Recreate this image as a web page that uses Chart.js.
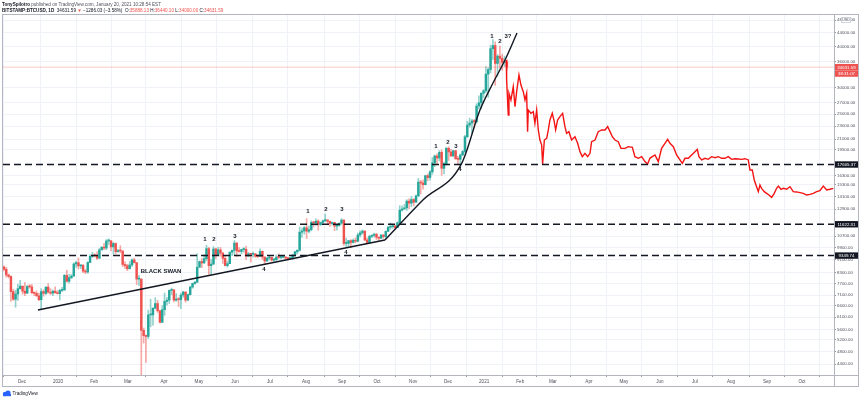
<!DOCTYPE html>
<html lang="en">
<head>
  <meta charset="UTF-8">
  <title>BTCUSD daily - fractal projection</title>
  <script src="https://cdn.jsdelivr.net/npm/chart.js"></script>
  <style>
    html, body { margin: 0; padding: 0; background: #fff; }
  </style>
</head>
<body>
  <canvas id="btcChart" width="860" height="399"></canvas>
  <script>
    // day numbers count from 1 Dec 2019; one candle = two days, first one 15 Nov 2019
    const candleStartDay = -16;
    const candleDays = 2;

    const opens = [
      8640, 8500, 8170, 8090, 7280, 6900, 7160, 7430, 7560, 7300,
      7200, 7540, 7520, 7220, 7190, 7070, 6880, 7280, 7190, 7510,
      7250, 7200, 7300, 7220, 7180, 7340, 7360, 8150, 7820, 8020,
      8110, 8820, 8900, 8700, 8730, 8390, 8340, 8910, 9300, 9350,
      9330, 9180, 9730, 9910, 9850, 10350, 10360, 9930, 10170, 9610,
      9670, 9650, 8790, 8710, 8530, 8760, 9070, 8900, 7940, 7940,
      5560, 5360, 5330, 6190, 6190, 6490, 6700, 6370, 5880, 6420,
      6800, 6860, 7340, 7370, 6860, 6910, 6880, 7110, 7260, 6860,
      7130, 7510, 7700, 7770, 8620, 8970, 8880, 9150, 9810, 8720,
      8810, 9790, 9380, 9730, 9510, 9170, 8720, 8840, 9570, 9700,
      10200, 9660, 9620, 9750, 9770, 9320, 9470, 9430, 9460, 9300,
      9290, 9630, 9250, 9000, 9190, 9230, 9060, 9080, 9250, 9230,
      9240, 9240, 9190, 9150, 9210, 9390, 9600, 9700, 11000, 11100,
      11340, 11070, 11190, 11770, 11750, 11880, 11580, 11770, 11910, 11970,
      11860, 11680, 11770, 11470, 11530, 11710, 11970, 10170, 10170, 10370,
      10240, 10400, 10330, 10790, 10950, 11090, 10420, 10240, 10690, 10770,
      10840, 10620, 10550, 10790, 10670, 11060, 11380, 11430, 11500, 11360,
      11750, 12820, 12930, 13030, 13650, 13460, 13800, 13550, 14150, 15580,
      15480, 15300, 16290, 16080, 16730, 17800, 18680, 18420, 19160, 17150,
      17720, 19700, 19210, 18690, 19380, 18320, 18250, 18810, 19270, 21350,
      23150, 23480, 23830, 23720, 26440, 27040, 28880, 29390, 33000, 34050,
      39370, 40240, 35540, 37390, 36820, 35790, 35888
    ];
    const highs = [
      8700, 8620, 8230, 8120, 7400, 7350, 7650, 7870, 7570, 7750,
      7600, 7650, 7650, 7270, 7310, 7200, 7430, 7370, 7520, 7690,
      7430, 7370, 7520, 7330, 7400, 7500, 8200, 8450, 8200, 8200,
      8900, 9000, 9190, 8770, 8800, 8500, 8960, 9420, 9560, 9470,
      9600, 9830, 9950, 10180, 10450, 10500, 10380, 10250, 10200, 9770,
      10020, 9660, 8950, 8800, 8970, 9140, 9190, 8900, 8150, 7960,
      5650, 5380, 6400, 6900, 6500, 6980, 6850, 6390, 6600, 7200,
      7000, 7360, 7460, 7370, 7180, 6990, 7200, 7300, 7260, 7150,
      7560, 7720, 7800, 9470, 9000, 9180, 9400, 10050, 9900, 9100,
      9950, 9840, 9900, 9890, 9570, 9300, 9000, 9600, 9720, 10380,
      10230, 9880, 9780, 9880, 9990, 9560, 9500, 9580, 9480, 9400,
      9790, 9660, 9280, 9230, 9300, 9260, 9180, 9380, 9470, 9300,
      9340, 9280, 9200, 9230, 9420, 9650, 9730, 11400, 11330, 11450,
      12090, 11470, 11900, 11800, 12070, 12000, 11800, 11980, 12480, 12020,
      11890, 11800, 11790, 11590, 11720, 12090, 11980, 10560, 10390, 10440,
      10500, 10580, 10930, 11100, 11170, 11090, 10570, 10770, 10800, 10940,
      10920, 10640, 10800, 10800, 11100, 11480, 11730, 11560, 11540, 11820,
      13220, 13200, 13350, 13790, 13860, 14100, 13900, 14250, 15970, 15770,
      15830, 16350, 16490, 16880, 18480, 18810, 18960, 19400, 19480, 17900,
      19860, 19920, 19560, 19420, 19420, 18640, 18950, 19400, 21560, 23770,
      24300, 24100, 24100, 26870, 28400, 29000, 29650, 34800, 34500, 40400,
      41950, 41300, 37800, 40100, 37900, 37400, 36440
    ];
    const lows = [
      8400, 8050, 8000, 6800, 6850, 6530, 6850, 7400, 7150, 7080,
      7180, 7450, 7170, 7080, 7030, 6830, 6430, 7050, 7120, 7200,
      7130, 7080, 7200, 7150, 6870, 7270, 7350, 7770, 7720, 7970,
      8100, 8610, 8520, 8540, 8300, 8240, 8260, 8900, 9210, 9260,
      9110, 9160, 9720, 9740, 9730, 10100, 9650, 9450, 9460, 9580,
      9530, 8650, 8530, 8420, 8520, 8670, 8870, 7640, 7590, 3850,
      5090, 4450, 5250, 5700, 5760, 6450, 6300, 5860, 5870, 6170,
      6620, 6700, 7120, 6770, 6800, 6560, 6470, 7000, 6760, 6830,
      7100, 7450, 7650, 7750, 8620, 8600, 8860, 9030, 8200, 8200,
      8800, 9150, 9350, 9300, 8850, 8700, 8630, 8840, 9340, 9400,
      9270, 9580, 9460, 9570, 9100, 9260, 8930, 9250, 9230, 9200,
      9280, 9100, 8840, 8990, 9070, 8990, 8970, 9050, 9150, 9130,
      9200, 9110, 9060, 9120, 9130, 9300, 9460, 9650, 10600, 10850,
      10520, 10950, 11100, 11400, 11520, 11150, 11550, 11690, 11830, 11580,
      11450, 11550, 11120, 11160, 11460, 11600, 10030, 9880, 9880, 9880,
      10200, 10210, 10280, 10640, 10840, 10370, 10150, 10200, 10580, 10630,
      10450, 10370, 10510, 10540, 10530, 11050, 11210, 11300, 11220, 11340,
      11700, 12720, 12900, 12800, 12950, 13130, 13220, 13530, 14100, 14350,
      14820, 15280, 15720, 15800, 16450, 17350, 17680, 18050, 16330, 16500,
      17520, 18100, 18600, 18560, 18250, 17650, 17580, 18730, 19050, 21230,
      22800, 21900, 22700, 23450, 25900, 25900, 28000, 29000, 28100, 33300,
      36500, 30500, 32500, 34400, 33900, 34800, 34000
    ];
    const closes = [
      8500, 8170, 8090, 7280, 6900, 7160, 7430, 7560, 7300, 7200,
      7540, 7520, 7220, 7190, 7070, 6880, 7280, 7190, 7510, 7250,
      7200, 7300, 7220, 7180, 7340, 7360, 8150, 7820, 8020, 8110,
      8820, 8900, 8700, 8730, 8390, 8340, 8910, 9300, 9350, 9330,
      9180, 9730, 9910, 9850, 10350, 10360, 9930, 10170, 9610, 9670,
      9650, 8790, 8710, 8530, 8760, 9070, 8900, 7940, 7940, 5560,
      5360, 5330, 6190, 6190, 6490, 6700, 6370, 5880, 6420, 6800,
      6860, 7340, 7370, 6860, 6910, 6880, 7110, 7260, 6860, 7130,
      7510, 7700, 7770, 8620, 8970, 8880, 9150, 9810, 8720, 8810,
      9790, 9380, 9730, 9510, 9170, 8720, 8840, 9570, 9700, 10200,
      9660, 9620, 9750, 9770, 9320, 9470, 9430, 9460, 9300, 9290,
      9630, 9250, 9000, 9190, 9230, 9060, 9080, 9250, 9230, 9240,
      9240, 9190, 9150, 9210, 9390, 9600, 9700, 11000, 11100, 11340,
      11070, 11190, 11770, 11750, 11880, 11580, 11770, 11910, 11970, 11860,
      11680, 11770, 11470, 11530, 11710, 11970, 10170, 10170, 10370, 10240,
      10400, 10330, 10790, 10950, 11090, 10420, 10240, 10690, 10770, 10840,
      10620, 10550, 10790, 10670, 11060, 11380, 11430, 11500, 11360, 11750,
      12820, 12930, 13030, 13650, 13460, 13800, 13550, 14150, 15580, 15480,
      15300, 16290, 16080, 16730, 17800, 18680, 18420, 19160, 17150, 17720,
      19700, 19210, 18690, 19380, 18320, 18250, 18810, 19270, 21350, 23150,
      23480, 23830, 23720, 26440, 27040, 28880, 29390, 33000, 34050, 39370,
      40240, 35540, 37390, 36820, 35790, 35900, 34632
    ];

    // red fractal projection drawn after the last candle
    const projDays = [
      416.0, 416.3, 417.7, 418.3, 420.0, 422.0, 423.5, 424.9, 426.9, 428.6,
      430.6, 432.1, 433.5, 434.3, 434.9, 437.2, 439.2, 440.6, 442.1, 443.5,
      444.9, 446.4, 447.2, 448.7, 450.7, 452.1, 453.5, 455.5, 457.2, 458.4,
      460.1, 462.1, 464.4, 466.4, 467.8, 469.8, 472.1, 475.0, 477.3, 479.3,
      481.3, 483.6, 485.9, 487.9, 489.3, 492.2, 495.0, 497.9, 500.8, 503.1,
      505.1, 507.1, 509.4, 512.2, 514.5, 518.0, 520.8, 524.3, 526.5, 529.4,
      532.3, 535.1, 537.4, 539.4, 541.4, 543.7, 546.6, 549.4, 552.3, 554.6,
      556.6, 559.5, 562.3, 565.2, 567.2, 569.5, 572.4, 575.2, 578.1, 580.1,
      581.5, 583.8, 586.7, 589.5, 592.4, 595.3, 598.1, 601.0, 603.8, 606.7,
      609.6, 612.4, 615.3, 618.2, 621.0, 623.9, 625.3, 627.3, 629.0, 631.0,
      632.5, 633.9, 635.3, 637.6, 639.6, 641.6, 643.9, 646.2, 648.2, 649.7,
      652.0, 654.0, 656.8, 659.7, 662.5, 665.4, 668.3, 671.1, 674.0, 676.9,
      679.7, 682.6, 685.4, 688.3, 691.2, 694.0, 696.9
    ];
    const projPrices = [
      36400, 31680, 24840, 28870, 27560, 30240, 26320, 29210, 32790, 30590,
      29210, 27560, 28870, 22120, 25710, 25130, 25420, 23440, 25710, 22380,
      20870, 20160, 17670, 20870, 21120, 22380, 23990, 25130, 23710, 22380,
      23990, 24550, 25130, 22900, 21860, 22120, 20870, 21360, 20400, 19250,
      18590, 19030, 18590, 19030, 20630, 20870, 22120, 22380, 22380, 22900,
      22120, 21360, 20870, 20630, 19700, 19700, 19930, 19840, 18590, 18380,
      18590, 17960, 17670, 18380, 18590, 18810, 17960, 19700, 20400, 20970,
      20400, 19930, 18810, 18170, 17750, 18380, 18380, 18810, 19250, 19570,
      18590, 18170, 18380, 18250, 18590, 18460, 18590, 18380, 18380, 18590,
      18250, 18330, 18290, 18250, 18330, 18170, 16950, 16950, 15810, 15090,
      14580, 15270, 14920, 14580, 14410, 14240, 14010, 14410, 14920, 15160,
      14820, 14920, 14820, 15090, 14580, 14550, 14480, 14410, 14240, 14310,
      14410, 14580, 14680, 15160, 14750, 14820, 14920
    ];

    const levels = [17605.37, 11622.31, 9349.74];
    const lastPrice = 34631.59;

    // hand drawn trend lines
    const supportDays = [13.7, 311.8];
    const supportPrices = [6405, 10420];
    const curveDays = [311.8, 344.4, 377.7, 393.4, 404.6, 414.9, 425.2];
    const curvePrices = [10420, 13760, 17750, 25710, 31020, 36400, 43900];

    const monthDays = [0, 31, 62, 91, 122, 152, 183, 213, 244, 275, 305, 336,
      366, 397, 428, 456, 487, 517, 548, 578, 609, 640, 670];
    const monthLabels = ['Dec', '2020', 'Feb', 'Mar', 'Apr', 'May', 'Jun', 'Jul', 'Aug', 'Sep', 'Oct', 'Nov',
      'Dec', '2021', 'Feb', 'Mar', 'Apr', 'May', 'Jun', 'Jul', 'Aug', 'Sep', 'Oct'];
    const priceTicks = [48000, 44000, 40000, 36000, 30000, 27000, 25000, 23000, 21000, 19500,
      16300, 15300, 14100, 12900, 10700, 9900, 9100, 8300, 7700, 7100, 6600, 6100,
      5600, 5200, 4800, 4400];

    // labels written on the chart: text, day, price
    const notes = [
      ['BLACK SWAN', 102, 8400],
      ['1', 157.2, 10490], ['2', 164.9, 10490], ['3', 183.0, 10710], ['4', 207.9, 8520],
      ['1', 245.7, 12750], ['2', 261.1, 12920], ['3', 274.9, 12920], ['4', 278.3, 9580],
      ['1', 355.6, 20020], ['2', 365.9, 20590], ['3', 372.8, 20020], ['4', 376.2, 16990],
      ['1', 403.7, 43000], ['2', 410.6, 41530], ['3?', 417.5, 43000]
    ];

    const dayMin = -16.3, dayMax = 697.5;
    const priceMin = 4077, priceMax = 50110;

    const UP = '#26a69a', DOWN = '#ef5350';
    const FONT = '"Liberation Sans", Arial, sans-serif';

    const candleX = i => candleStartDay + i * candleDays + 0.5;
    const isUp = i => closes[i] >= opens[i];

    const wickData = highs.map((h, i) => ({ x: candleX(i), y: [lows[i], h] }));
    const bodyData = opens.map((o, i) => ({ x: candleX(i), y: [o, closes[i]] }));

    const datasets = [
      {
        type: 'line', order: 0,
        data: supportDays.map((d, i) => ({ x: d, y: supportPrices[i] })),
        borderColor: '#131722', borderWidth: 1.4, pointRadius: 0
      },
      {
        type: 'line', order: 0,
        data: curveDays.map((d, i) => ({ x: d, y: curvePrices[i] })),
        borderColor: '#131722', borderWidth: 1.4, pointRadius: 0,
        cubicInterpolationMode: 'monotone'
      },
      ...levels.map(l => ({
        type: 'line', order: 1,
        data: [{ x: dayMin, y: l }, { x: dayMax, y: l }],
        borderColor: '#131722', borderWidth: 1.6, borderDash: [7, 4], pointRadius: 0
      })),
      {
        type: 'line', order: 2,
        data: [{ x: dayMin, y: lastPrice }, { x: dayMax, y: lastPrice }],
        borderColor: 'rgba(239,83,80,0.3)', borderWidth: 1, pointRadius: 0
      },
      {
        type: 'line', order: 2,
        data: projDays.map((d, i) => ({ x: d, y: projPrices[i] })),
        borderColor: '#f41414', borderWidth: 1.4, pointRadius: 0,
        borderJoinStyle: 'miter'
      },
      {
        type: 'bar', order: 3, grouped: false,
        data: bodyData, barThickness: 1.8, minBarLength: 1,
        backgroundColor: ctx => isUp(ctx.dataIndex) ? UP : DOWN
      },
      {
        type: 'bar', order: 4, grouped: false,
        data: wickData, barThickness: 1,
        backgroundColor: ctx => isUp(ctx.dataIndex) ? 'rgba(38,166,154,0.5)' : 'rgba(239,83,80,0.5)'
      }
    ];

    function drawRuns(ctx, runs, x, y) {
      runs.forEach(([text, color, bold]) => {
        ctx.font = (bold ? 'bold ' : '') + '4.6px ' + FONT;
        ctx.fillStyle = color;
        ctx.fillText(text, x, y);
        x += ctx.measureText(text).width;
      });
    }

    function axisBox(ctx, yy, text, bg) {
      ctx.fillStyle = bg;
      ctx.fillRect(835, yy - 3.2, 23, 6.4);
      ctx.fillStyle = '#fff';
      ctx.font = '4.4px ' + FONT;
      ctx.textAlign = 'center';
      ctx.textBaseline = 'middle';
      ctx.fillText(text, 846.5, yy + 0.2);
    }

    const overlay = {
      id: 'overlay',
      afterDatasetsDraw(chart) {
        const { ctx, scales: { x, y } } = chart;
        ctx.save();
        ctx.fillStyle = '#131722';
        ctx.textBaseline = 'middle';
        notes.forEach(([t, d, p]) => {
          ctx.font = 'bold 6px ' + FONT;
          ctx.textAlign = t.length > 2 ? 'left' : 'center';
          ctx.fillText(t, x.getPixelForValue(d), y.getPixelForValue(p));
        });
        ctx.restore();
      },
      afterDraw(chart) {
        const { ctx, scales: { y } } = chart;
        ctx.save();
        // frame
        ctx.strokeStyle = '#b2b5be';
        ctx.lineWidth = 1;
        ctx.strokeRect(2.5, 14.5, 856, 372);
        ctx.beginPath();
        ctx.moveTo(834.5, 14.5); ctx.lineTo(834.5, 386.5);
        ctx.moveTo(2.5, 375.5); ctx.lineTo(858.5, 375.5);
        ctx.stroke();

        // price boxes on the axis
        const py = y.getPixelForValue(lastPrice);
        axisBox(ctx, py, lastPrice.toFixed(2), DOWN);
        axisBox(ctx, py + 6.4, '38:31:07', DOWN);
        levels.forEach(l => axisBox(ctx, y.getPixelForValue(l), l.toFixed(2), '#131722'));

        // USD marker
        ctx.fillStyle = '#fff';
        ctx.strokeStyle = '#d1d4dc';
        ctx.fillRect(841, 17, 10, 6);
        ctx.strokeRect(841.5, 17.5, 9, 5);
        ctx.fillStyle = '#50535e';
        ctx.font = '3.8px ' + FONT;
        ctx.textAlign = 'center';
        ctx.textBaseline = 'middle';
        ctx.fillText('USD', 846, 20.2);

        // header
        ctx.textAlign = 'left';
        ctx.textBaseline = 'middle';
        drawRuns(ctx, [['TonySpilotro', '#131722', true],
          [' published on TradingView.com, January 20, 2021 10:28:54 EST', '#50535e', false]], 2, 4.5);
        drawRuns(ctx, [['BITSTAMP:BTCUSD, 1D', '#131722', true], ['  34631.59 ', '#131722', false],
          ['\u25BC', DOWN, false], [' \u22121286.03 (\u22123.58%)  ', '#131722', false],
          ['O:', '#131722', false], ['35888.13', DOWN, false], [' H:', '#131722', false], ['36440.10', DOWN, false],
          [' L:', '#131722', false], ['34000.00', DOWN, false], [' C:', '#131722', false], ['34631.59', DOWN, false]], 2, 10.3);

        // TradingView mark
        ctx.fillStyle = '#2962ff';
        ctx.beginPath();
        ctx.arc(5, 394, 2.2, 0, Math.PI * 2);
        ctx.arc(8, 393, 2.6, 0, Math.PI * 2);
        ctx.fill();
        ctx.fillRect(3, 394, 8, 2.2);
        drawRuns(ctx, [['TradingView', '#131722', false]], 12.5, 394);
        ctx.restore();
      }
    };

    new Chart(document.getElementById('btcChart'), {
      type: 'bar',
      data: { datasets },
      plugins: [overlay],
      options: {
        responsive: false,
        animation: false,
        layout: { padding: { left: 3, top: 14, right: 2, bottom: 13 } },
        plugins: { legend: { display: false }, tooltip: { enabled: false } },
        scales: {
          x: {
            type: 'linear', min: dayMin, max: dayMax, offset: false,
            afterFit: s => { s.height = 11; },
            afterBuildTicks: s => { s.ticks = monthDays.map(v => ({ value: v })); },
            grid: { color: '#eff2f7', tickLength: 2, tickColor: '#9598a1' },
            border: { display: false },
            ticks: {
              autoSkip: false, maxRotation: 0, padding: 1.5,
              color: '#50535e', font: { size: 4.6, family: FONT },
              callback: (v, i) => monthLabels[i]
            }
          },
          y: {
            type: 'logarithmic', position: 'right', min: priceMin, max: priceMax,
            afterFit: s => { s.width = 24; },
            afterBuildTicks: s => { s.ticks = priceTicks.map(v => ({ value: v })); },
            grid: { color: '#eff2f7', tickLength: 2, tickColor: '#9598a1' },
            border: { display: false },
            ticks: {
              autoSkip: false, padding: 1,
              color: '#50535e', font: { size: 4.4, family: FONT },
              callback: v => Number(v).toFixed(2)
            }
          }
        }
      }
    });
  </script>
</body>
</html>
